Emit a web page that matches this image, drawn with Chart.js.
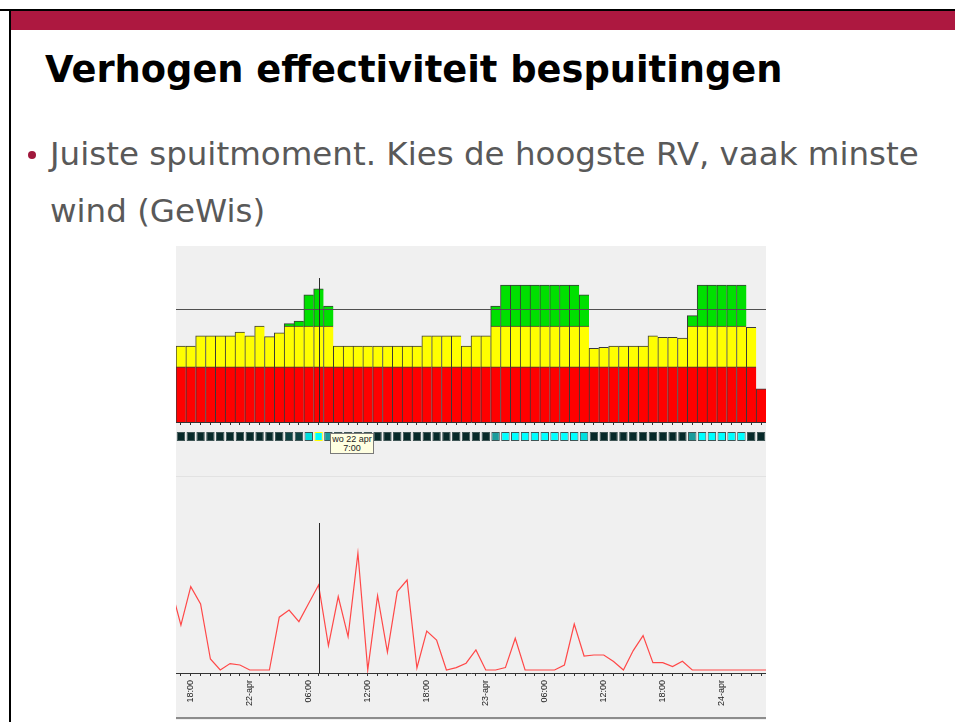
<!DOCTYPE html>
<html>
<head>
  <script src="https://cdn.jsdelivr.net/npm/chart.js"></script>
  <title>Verhogen effectiviteit bespuitingen</title>
  <style>
    body { margin: 0; width: 955px; height: 722px; overflow: hidden; background: #fff; position: relative; font-family: "DejaVu Sans", Verdana, sans-serif; }
    .abs { position: absolute; }
    #topline { left: 0; top: 9px; width: 955px; height: 2px; background: #000; }
    #leftline { left: 9px; top: 9px; width: 2px; height: 713px; background: #000; }
    #band { left: 11px; top: 11px; width: 944px; height: 19px; background: #ad1840; }
    #title { left: 45px; top: 52px; font-size: 36.8px; line-height: 36px; font-weight: bold; color: #000; white-space: nowrap; }
    #bullet { left: 28px; top: 151px; width: 8px; height: 8px; border-radius: 50%; background: #a0183c; }
    #text { left: 50px; top: 126px; font-size: 32.5px; line-height: 57px; color: #595959; width: 900px; }
    #panel { left: 176px; top: 246px; width: 590px; height: 474px; background: #f0f0f0; }
    #sep { left: 176px; top: 476px; width: 590px; height: 1px; background: #e2e2e2; }
    #bottomline { left: 176px; top: 717px; width: 590px; height: 2px; background: #8c8c8c; }
    #tip { left: 330px; top: 433px; width: 42px; height: 18px; background: #ffffe1; border: 1px solid #7a7a7a;
           font: 9px/9px "Liberation Sans", Arial, sans-serif; color: #222; text-align: center; padding-top: 1px; }
    canvas { position: absolute; }
  </style>
</head>
<body>
  <div id="topline" class="abs"></div>
  <div id="leftline" class="abs"></div>
  <div id="band" class="abs"></div>
  <div id="title" class="abs">Verhogen effectiviteit bespuitingen</div>
  <div id="bullet" class="abs"></div>
  <div id="text" class="abs">Juiste spuitmoment. Kies de hoogste RV, vaak minste wind (GeWis)</div>

  <div id="panel" class="abs"></div>
  <canvas id="rvChart" width="590" height="180" style="left:176px;top:246px"></canvas>
  <canvas id="stripChart" width="590" height="9" style="left:176px;top:432px"></canvas>
  <div id="sep" class="abs"></div>
  <canvas id="windChart" width="590" height="242" style="left:176px;top:478px"></canvas>
  <div id="bottomline" class="abs"></div>
  <div id="tip" class="abs">wo 22 apr<br>7:00</div>

  <script>
    // hourly slots, first bar = di 21 apr 17:00
    let days = ['di 21 apr', 'wo 22 apr', 'do 23 apr', 'vr 24 apr'];
    let dayTicks = ['21-apr', '22-apr', '23-apr', '24-apr'];
    let firstHour = 17;
    let slotCount = 60;

    // RV indicator per hour (relative scale, 0 = baseline, 100 = top of panel)
    let rv = [
      43.2, 43.2, 48.9, 48.9, 48.9, 48.9, 51.1, 49.0, 54.5, 48.5,
      50.7, 55.9, 57.4, 72.2, 75.6, 65.9, 43.2, 43.2, 43.2, 43.2,
      43.2, 43.2, 43.2, 43.2, 43.2, 48.9, 48.9, 48.9, 48.9, 43.2,
      48.9, 48.9, 65.9, 77.8, 77.8, 77.8, 77.8, 77.8, 77.8, 77.8,
      77.8, 72.2, 41.9, 42.4, 43.2, 43.2, 43.2, 43.2, 49.0, 48.1,
      48.1, 47.7, 60.4, 77.8, 77.8, 77.8, 77.8, 77.8, 53.8, 18.9
    ];
    let redTop = 31.3;     // red up to here
    let greenFrom = 54.5;  // green above this
    let refLine = 64.2;

    // strip below the bars: 0 = unsuitable ... 4 = best moment
    let strip = [
      0, 0, 0, 0, 0, 0, 0, 0, 0, 0,
      0, 1, 1, 3, 4, 2, 0, 0, 0, 0,
      0, 0, 0, 0, 0, 0, 0, 0, 0, 0,
      0, 0, 2, 4, 4, 4, 4, 4, 4, 4,
      4, 3, 0, 0, 0, 0, 0, 0, 0, 0,
      0, 0, 2, 4, 4, 4, 4, 4, 0, 0
    ];
    let stripColors = ['#072929', '#0d4242', '#1a9c9c', '#00dede', '#00ffff'];

    // wind (m/s) per hour, from 16:00 on 21 apr up to 05:00 on 24 apr
    let wind = [
      4.1, 2.24, 4.17, 3.3, 0.55, 0, 0.32, 0.25, 0, 0,
      0, 2.64, 3.0, 2.42, 3.34, 4.25, 1.22, 3.67, 1.67, 5.84,
      0, 3.72, 0.89, 3.92, 4.5, 0.1, 1.95, 1.5, 0, 0.12,
      0.34, 1.0, 0, 0, 0.12, 1.59, 0, 0, 0, 0,
      0.25, 2.3, 0.7, 0.75, 0.75, 0.42, 0, 0.97, 1.72, 0.37,
      0.37, 0.17, 0.44, 0, 0, 0, 0, 0, 0, 0,
      0, 0
    ];

    let cursorIndex = 14; // wo 22 apr 7:00

    let slots = [];
    for (let i = 0; i < slotCount; i++) {
      let t = firstHour + i;
      slots.push(days[Math.floor(t / 24)] + ' ' + (t % 24) + ':00');
    }

    function tickLabel(i) {
      let t = firstHour + i;
      let h = t % 24;
      if (h === 0) return dayTicks[Math.floor(t / 24)];
      if (h % 6 === 0) return (h < 10 ? '0' : '') + h + ':00';
      return '';
    }

    // reference line + cursor
    let overlay = {
      id: 'overlay',
      afterDatasetsDraw(chart, args, opts) {
        let ctx = chart.ctx, a = chart.chartArea, x = chart.scales.x, y = chart.scales.y;
        ctx.save();
        ctx.lineWidth = 1;
        if (opts.refLine != null) {
          let py = Math.round(y.getPixelForValue(opts.refLine)) + 0.5;
          ctx.strokeStyle = '#505050';
          ctx.beginPath(); ctx.moveTo(a.left, py); ctx.lineTo(a.right, py); ctx.stroke();
        }
        let px = Math.round(x.getPixelForValue(cursorIndex)) + 0.5;
        ctx.strokeStyle = '#2a2a2a';
        ctx.beginPath();
        ctx.moveTo(px, y.getPixelForValue(opts.cursorTop));
        ctx.lineTo(px, a.bottom);
        ctx.stroke();
        ctx.restore();
      }
    };

    Chart.defaults.animation = false;
    Chart.defaults.responsive = false;
    Chart.defaults.font.family = '"Liberation Sans", Arial, sans-serif';

    let barBorder = { top: 1, left: 1, right: 0, bottom: 0 };
    function part(vals, color) {
      return {
        data: vals,
        backgroundColor: color,
        borderColor: '#3a3a3a',
        borderWidth: barBorder,
        borderSkipped: false,
        barPercentage: 1,
        categoryPercentage: 1
      };
    }

    new Chart(document.getElementById('rvChart'), {
      type: 'bar',
      data: {
        labels: slots,
        datasets: [
          part(rv.map(v => Math.min(v, redTop)), '#ff0000'),
          part(rv.map(v => v > redTop ? Math.min(v, greenFrom) - redTop : null), '#ffff00'),
          part(rv.map(v => v > greenFrom ? v - greenFrom : null), '#00e000')
        ]
      },
      options: {
        layout: { padding: 0 },
        plugins: { legend: { display: false }, tooltip: { enabled: false },
                   overlay: { refLine: refLine, cursorTop: 81.8 } },
        scales: {
          x: {
            stacked: true,
            grid: { offset: false, drawOnChartArea: false, tickLength: 3, color: '#333' },
            border: { color: '#333' },
            ticks: { display: false },
            afterFit: s => { s.height = 4; s.paddingLeft = 0; s.paddingRight = 0; }
          },
          y: { stacked: true, display: false, min: 0, max: 100 }
        }
      },
      plugins: [overlay]
    });

    new Chart(document.getElementById('stripChart'), {
      type: 'bar',
      data: {
        labels: slots,
        datasets: [{
          data: strip.map(() => [0, 1]),
          backgroundColor: strip.map(l => stripColors[l]),
          borderColor: strip.map((l, i) => i === cursorIndex ? '#ffff00' : '#3f5555'),
          borderWidth: 1,
          borderSkipped: false,
          barPercentage: 0.86,
          categoryPercentage: 1
        }]
      },
      options: {
        layout: { padding: 0 },
        plugins: { legend: { display: false }, tooltip: { enabled: false } },
        scales: {
          x: { display: false },
          y: { display: false, min: 0, max: 1 }
        }
      }
    });

    new Chart(document.getElementById('windChart'), {
      type: 'line',
      data: {
        datasets: [{
          data: wind.map((v, i) => ({ x: i - 1, y: v })),
          borderColor: '#ff4848',
          borderWidth: 1.2,
          pointRadius: 0,
          tension: 0
        }]
      },
      options: {
        layout: { padding: 0 },
        plugins: { legend: { display: false }, tooltip: { enabled: false },
                   overlay: { cursorTop: 7.35 } },
        scales: {
          x: {
            type: 'linear',
            min: -0.5,
            max: slotCount - 0.5,
            afterBuildTicks: s => { s.ticks = slots.map((_, i) => ({ value: i })); },
            grid: { drawOnChartArea: false, tickLength: 3, color: '#333' },
            border: { color: '#333' },
            ticks: {
              autoSkip: false,
              minRotation: 90,
              maxRotation: 90,
              padding: 4,
              color: '#222',
              font: { size: 9 },
              callback: v => tickLabel(v)
            },
            afterFit: s => { s.height = 47; s.paddingLeft = 0; s.paddingRight = 0; }
          },
          y: { display: false, min: -0.15, max: 9.6 }
        }
      },
      plugins: [overlay]
    });
  </script>
</body>
</html>
